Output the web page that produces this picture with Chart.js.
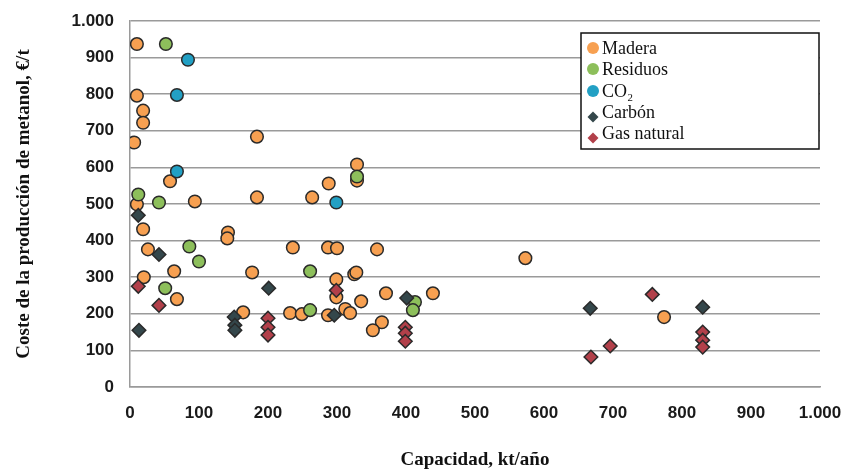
<!DOCTYPE html>
<html><head><meta charset="utf-8">
<script src="https://cdn.jsdelivr.net/npm/chart.js@4/dist/chart.umd.min.js"></script>
<style>html,body{margin:0;padding:0;background:#fff}#wrap{width:844px;height:475px;position:relative}</style>
</head><body><div id="wrap"><canvas id="c" width="844" height="475"></canvas></div>
<script>
// ---- data ----
const seriesNames = ['Madera', 'Residuos', 'CO₂', 'Carbón', 'Gas natural'];

const maderaX = [10, 10, 19, 19, 6, 184, 58, 10, 19, 26, 20, 64, 68, 94, 142, 141, 184, 177, 164, 264, 288, 236, 287, 300, 358, 329, 329, 325, 328, 299, 299, 335, 371, 232, 249, 287, 312, 319, 365, 352, 439, 573, 774];
const maderaY = [937, 796, 755, 722, 668, 684, 562, 499, 431, 376, 300, 316, 240, 507, 422, 406, 518, 313, 204, 518, 556, 381, 381, 379, 376, 608, 564, 308, 313, 294, 245, 234, 256, 202, 199, 196, 213, 202, 177, 155, 256, 352, 191];

const residuosX = [52, 12, 42, 86, 100, 51, 261, 261, 413, 410, 329];
const residuosY = [937, 526, 504, 384, 343, 270, 316, 210, 232, 210, 575];

const co2X = [84, 68, 68, 299];
const co2Y = [894, 798, 589, 504];

const carbonX = [12, 42, 13, 151, 152, 152, 201, 296, 401, 667, 830];
const carbonY = [469, 362, 155, 191, 169, 155, 270, 196, 243, 215, 218];

const gasX = [12, 42, 200, 200, 200, 299, 399, 399, 399, 668, 696, 757, 830, 830, 830];
const gasY = [275, 223, 188, 163, 142, 264, 163, 147, 125, 82, 112, 253, 150, 128, 109];

const xTickLabels = ['0', '100', '200', '300', '400', '500', '600', '700', '800', '900', '1.000'];
const yTickLabels = ['0', '100', '200', '300', '400', '500', '600', '700', '800', '900', '1.000'];

const xTitle = 'Capacidad, kt/año';
const yTitle = 'Coste de la producción de metanol, €/t';

// ---- helpers ----
function pts(xs, ys) { return xs.map((x, i) => ({ x: x, y: ys[i] })); }

const styles = [
  { bg: '#F7A051', style: 'circle', r: 6.3, order: 5 },
  { bg: '#8DBF5B', style: 'circle', r: 6.3, order: 4 },
  { bg: '#22A0C4', style: 'circle', r: 6.3, order: 3 },
  { bg: '#34474B', style: 'rectRot', r: 6.8, order: 2 },
  { bg: '#B2404A', style: 'rectRot', r: 6.8, order: 1 }
];
const seriesData = [pts(maderaX, maderaY), pts(residuosX, residuosY), pts(co2X, co2Y), pts(carbonX, carbonY), pts(gasX, gasY)];

const datasets = seriesNames.map((n, i) => ({
  label: n,
  data: seriesData[i],
  backgroundColor: styles[i].bg,
  borderColor: '#2a2a2a',
  borderWidth: 1.5,
  pointStyle: styles[i].style,
  pointRadius: styles[i].r,
  pointHoverRadius: styles[i].r,
  order: styles[i].order
}));

const boxLegend = {
  id: 'boxLegend',
  afterDatasetsDraw(chart) {
    const ctx = chart.ctx;
    const left = 581, top = 33, w = 238, h = 116;
    ctx.save();
    ctx.fillStyle = '#fff';
    ctx.fillRect(left, top, w, h);
    ctx.strokeStyle = '#111';
    ctx.lineWidth = 1.5;
    ctx.strokeRect(left, top, w, h);
    const rowY = [48, 69, 91, 112, 133];
    ctx.font = '18px "Liberation Serif", "Times New Roman", serif';
    ctx.textBaseline = 'middle';
    ctx.textAlign = 'left';
    seriesNames.forEach((n, i) => {
      const isD = styles[i].style === 'rectRot';
      const my = rowY[i] + (isD ? 5 : 0);
      ctx.fillStyle = styles[i].bg;
      ctx.strokeStyle = '#2a2a2a';
      ctx.lineWidth = 1.3;
      Chart.helpers.drawPoint(ctx, { pointStyle: styles[i].style, radius: isD ? 5.5 : 6, rotation: 0 }, 593, my);
      ctx.fillStyle = '#111';
      ctx.fillText(n, 602, rowY[i] + 1);
    });
    ctx.restore();
  }
};

const tickFont = { family: '"Liberation Sans", Arial, sans-serif', size: 17, weight: 'bold' };
const titleFont = { family: '"Liberation Serif", "Times New Roman", serif', size: 19, weight: 'bold' };

new Chart(document.getElementById('c'), {
  type: 'scatter',
  data: { datasets: datasets },
  plugins: [boxLegend],
  options: {
    responsive: false,
    animation: false,
    devicePixelRatio: 1,
    layout: { padding: { left: 0, right: 0, top: 21, bottom: 0 } },
    plugins: { legend: { display: false }, tooltip: { enabled: false } },
    scales: {
      x: {
        type: 'linear', min: 0, max: 1000,
        afterFit(s) { s.height = 88; s.paddingRight = 24; },
        ticks: { stepSize: 100, padding: 16, color: '#1a1a1a', font: tickFont, maxRotation: 0,
          callback: (v, i) => xTickLabels[i] },
        grid: { display: false, drawTicks: false },
        border: { display: true, color: '#9a9a9a', width: 1.5 },
        title: { display: true, text: xTitle, color: '#111', font: titleFont, padding: { top: 0, bottom: 4 } }
      },
      y: {
        type: 'linear', min: 0, max: 1000,
        afterFit(s) { s.width = 130; s.paddingTop = 5; },
        ticks: { stepSize: 100, padding: 16, color: '#1a1a1a', font: tickFont,
          callback: (v, i) => yTickLabels[i] },
        grid: { color: '#9a9a9a', lineWidth: 1.5, drawTicks: false },
        border: { display: true, color: '#9a9a9a', width: 1.5 },
        title: { display: true, text: yTitle, color: '#111', font: titleFont, padding: { top: 13, bottom: 0 } }
      }
    }
  }
});
</script>
</body></html>
